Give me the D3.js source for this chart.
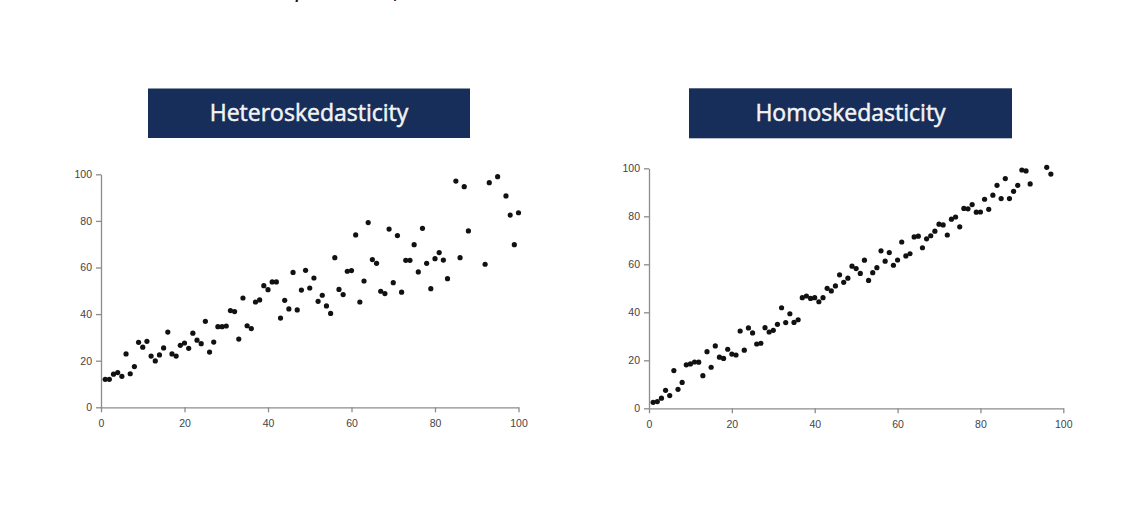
<!DOCTYPE html>
<html>
<head>
<meta charset="utf-8">
<script src="https://cdn.jsdelivr.net/npm/d3@7"></script>
<style>
  body { margin: 0; background: #fff; }
  .axis path, .axis line { stroke: #8c8c8c; stroke-width: 1.3px; }
  .axis text { fill: #444; font-family: "Liberation Sans", Arial, sans-serif; font-size: 10.5px; }
</style>
</head>
<body>
<div id="chart"></div>
<script>
// values
var titles = ["Heteroskedasticity", "Homoskedasticity"];
var tickValues = [0, 20, 40, 60, 80, 100];

var heteroX = [1,2,3,4,5,6,7,8,9,10,11,12,13,14,15,16,17,18,19,20,21,22,23,24,25,26,27,28,29,30,
  31,32,33,34,35,36,37,38,39,40,41,42,43,44,45,46,47,48,49,50,51,52,53,54,55,56,57,58,59,60,
  61,62,63,64,65,66,67,68,69,70,71,72,73,74,75,76,77,78,79,80,81,82,83,85,86,87,88,92,93,95,
  97,98,99,100];
var heteroY = [12.0,12.0,14.2,14.9,13.3,22.9,14.4,17.5,27.9,25.8,28.3,22.0,19.9,22.5,25.5,32.3,22.9,22.0,26.6,27.6,
  25.3,31.8,28.8,27.3,36.9,23.7,28.0,34.6,34.6,34.9,41.5,41.1,29.3,46.9,35.0,33.8,45.2,46.1,52.2,50.5,
  53.8,53.8,38.3,45.9,42.2,57.9,41.8,50.3,58.8,51.2,55.5,45.5,48.1,43.5,40.3,64.2,50.6,48.4,58.4,58.7,
  74.0,45.2,54.2,79.3,63.4,61.8,49.8,48.8,76.5,53.5,73.7,49.4,63.1,63.1,69.8,58.1,76.8,61.8,50.9,63.8,
  66.4,63.2,55.2,97.1,64.2,94.7,75.7,61.4,96.4,99.0,90.7,82.5,69.8,83.5];

var homoX = [1,2,3,4,5,6,7,8,9,10,11,12,13,14,15,16,17,18,19,20,21,22,23,24,25,26,27,28,29,30,
  31,32,33,34,35,36,37,38,39,40,41,42,43,44,45,46,47,48,49,50,51,52,53,54,55,56,57,58,59,60,
  61,62,63,64,65,66,67,68,69,70,71,72,73,74,75,76,77,78,79,80,81,82,83,84,85,86,87,88,89,90,
  91,92,96,97];
var homoY = [2.5,2.8,4.2,7.5,5.3,15.7,7.9,10.8,18.1,18.5,19.3,19.2,13.6,23.6,17.1,26.0,21.3,20.8,24.6,22.6,
  22.2,32.2,24.2,33.5,31.4,26.8,27.1,33.6,31.8,32.5,35.0,41.9,35.7,39.4,35.8,36.9,46.1,46.8,45.8,46.1,
  44.4,46.1,50.0,48.9,51.0,55.6,52.5,54.2,59.2,58.2,56.2,61.7,53.3,56.5,58.6,65.6,61.3,64.9,59.6,61.8,
  69.3,63.5,64.4,71.4,71.7,66.9,70.6,71.9,73.8,76.7,76.4,72.2,78.8,79.7,75.6,83.3,83.1,84.9,81.7,81.8,
  87.1,82.9,88.8,92.9,87.4,95.7,87.4,90.4,92.9,99.3,98.9,93.5,100.4,97.6];

var width = 1136, height = 514;

var svg = d3.select("#chart")
            .append("svg")
            .attr("width", width)
            .attr("height", height);

// cropped caption fragment at the very top of the picture
svg.append("text")
    .attr("x", 296)
    .attr("y", -4)
    .attr("font-family", "Open Sans")
    .attr("font-style", "italic")
    .attr("font-size", "26px")
    .attr("fill", "#111")
    .text("p");
svg.append("text")
    .attr("x", 393)
    .attr("y", -2)
    .attr("font-family", "Open Sans")
    .attr("font-size", "26px")
    .attr("fill", "#111")
    .text(",");

function drawPanel(title, box, plot, xs, ys) {
    svg.append("rect")
        .attr("x", box.x)
        .attr("y", box.y)
        .attr("width", box.w)
        .attr("height", box.h)
        .attr("fill", "#172e5b");
    svg.append("text")
        .attr("x", box.x + box.w / 2)
        .attr("y", box.y + box.h / 2 + 8)
        .attr("text-anchor", "middle")
        .attr("font-family", "Open Sans")
        .attr("font-size", "23px")
        .attr("fill", "#f4f4f4")
        .attr("stroke", "#f4f4f4")
        .attr("stroke-width", 0.5)
        .text(title);

    var x = d3.scaleLinear().domain([0, 100]).range([plot.x0, plot.x1]),
        y = d3.scaleLinear().domain([0, 100]).range([plot.y0, plot.y1]);

    svg.append("g")
        .attr("class", "axis")
        .attr("transform", "translate(0," + plot.y0 + ")")
        .call(d3.axisBottom(x).tickValues(tickValues).tickSize(5).tickSizeOuter(0).tickPadding(7));
    svg.append("g")
        .attr("class", "axis")
        .attr("transform", "translate(" + plot.x0 + ",0)")
        .call(d3.axisLeft(y).tickValues(tickValues).tickSize(5).tickSizeOuter(0).tickPadding(4));

    var pts = xs.map(function(d, i) { return [d, ys[i]]; });
    svg.append("g")
        .selectAll("circle")
        .data(pts)
        .enter()
        .append("circle")
        .attr("cx", function(d) { return x(d[0]); })
        .attr("cy", function(d) { return y(d[1]); })
        .attr("r", 2.6)
        .attr("fill", "#111");
}

drawPanel(titles[0], {x: 148, y: 88.5, w: 322, h: 49.5},
          {x0: 101, x1: 518.5, y0: 407.3, y1: 174.3}, heteroX, heteroY);
drawPanel(titles[1], {x: 689, y: 88.3, w: 323, h: 50},
          {x0: 649, x1: 1063.3, y0: 408.3, y1: 168.3}, homoX, homoY);
</script>
</body>
</html>
